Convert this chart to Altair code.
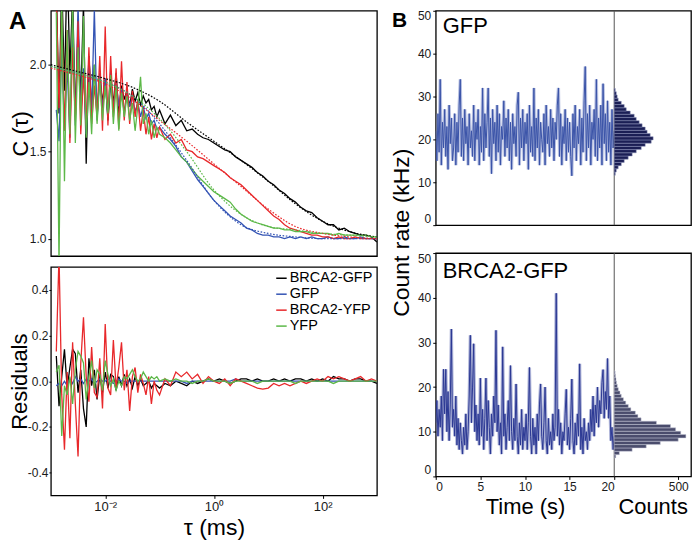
import altair as alt
import pandas as pd

FONT = "Liberation Sans"
NAMES = ["BRCA2-GFP", "GFP", "BRCA2-YFP", "YFP"]
COLORS = ["#000000", "#3454b4", "#e8282b", "#5cb848"]

# ---- Panel A: correlation curves (log10 of tau in ms) ----
log_tau = [-2.90, -2.85, -2.80, -2.75, -2.70, -2.65, -2.60, -2.55, -2.50, -2.45,
           -2.40, -2.35, -2.30, -2.25, -2.20, -2.15, -2.10, -2.05, -2.00, -1.95,
           -1.90, -1.85, -1.80, -1.75, -1.70, -1.65, -1.60, -1.55, -1.50, -1.45,
           -1.40, -1.35, -1.30, -1.25, -1.20, -1.15, -1.10, -1.05, -1.00,
           -0.9, -0.8, -0.7, -0.6, -0.5, -0.4, -0.3, -0.2, -0.1, 0.0,
           0.1, 0.2, 0.3, 0.4, 0.5, 0.6, 0.7, 0.8, 0.9, 1.0,
           1.1, 1.2, 1.3, 1.4, 1.5, 1.6, 1.7, 1.8, 1.9, 2.0,
           2.1, 2.2, 2.3, 2.4, 2.5, 2.6, 2.7, 2.8, 2.9, 3.0]

corr_brca2_gfp = [2.45, 1.72, 2.50, 1.85, 2.60, 1.95, 2.40, 1.70, 2.20, 1.80,
                  2.35, 1.43, 2.05, 1.75, 2.00, 1.70, 1.95, 1.78, 1.92, 1.68,
                  1.90, 1.78, 1.95, 1.72, 1.88, 1.80, 1.85, 1.76, 1.86, 1.79,
                  1.84, 1.77, 1.82, 1.78, 1.80, 1.74, 1.76, 1.70, 1.74,
                  1.66, 1.71, 1.65, 1.68, 1.62, 1.63, 1.60, 1.58, 1.57, 1.55,
                  1.53, 1.51, 1.50, 1.47, 1.45, 1.43, 1.41, 1.38, 1.36, 1.33,
                  1.31, 1.28, 1.26, 1.23, 1.21, 1.18, 1.16, 1.15, 1.12, 1.10,
                  1.08, 1.08, 1.05, 1.06, 1.04, 1.03, 1.02, 1.02, 1.01, 0.98]

corr_gfp = [1.74, 1.56, 2.10, 1.62, 2.00, 1.58, 2.25, 1.65, 2.35, 1.70,
            1.98, 1.60, 2.05, 1.72, 2.32, 1.68, 1.95, 1.75, 1.92, 1.70,
            1.96, 1.74, 1.90, 1.76, 1.86, 1.72, 1.84, 1.76, 1.82, 1.73,
            1.78, 1.70, 1.76, 1.69, 1.72, 1.66, 1.68, 1.63, 1.64,
            1.60, 1.57, 1.53, 1.47, 1.44, 1.39, 1.34, 1.30, 1.26, 1.22,
            1.19, 1.16, 1.13, 1.11, 1.09, 1.06, 1.05, 1.03, 1.02, 1.02,
            1.01, 1.01, 1.00, 1.01, 1.00, 1.01, 1.00, 1.01, 1.00, 1.00,
            1.01, 1.00, 1.00, 1.01, 1.00, 1.00, 1.01, 1.00, 1.00, 1.00]

corr_brca2_yfp = [2.40, 1.75, 2.30, 1.62, 2.20, 1.55, 2.10, 1.68, 2.25, 1.60,
                  1.95, 1.65, 2.10, 1.66, 1.88, 1.70, 2.05, 1.62, 2.22, 1.65,
                  2.05, 1.70, 1.98, 1.63, 2.02, 1.68, 1.90, 1.66, 1.85, 1.70,
                  1.80, 1.62, 1.74, 1.60, 1.70, 1.57, 1.66, 1.58, 1.64,
                  1.57, 1.60, 1.55, 1.57, 1.51, 1.50, 1.47, 1.46, 1.44, 1.42,
                  1.40, 1.38, 1.35, 1.33, 1.31, 1.28, 1.25, 1.22, 1.19, 1.16,
                  1.13, 1.11, 1.08, 1.06, 1.05, 1.04, 1.03, 1.02, 1.02, 1.01,
                  1.01, 1.00, 1.01, 1.00, 1.00, 1.01, 1.00, 1.00, 1.00, 1.00]

corr_yfp = [2.30, 0.85, 2.40, 1.33, 2.20, 1.60, 2.35, 1.55, 2.10, 1.65,
            2.28, 1.58, 1.90, 1.60, 2.00, 1.66, 1.92, 1.68, 1.88, 1.72,
            1.94, 1.66, 1.88, 1.62, 1.84, 1.70, 1.82, 1.68, 1.78, 1.62,
            1.76, 1.93, 1.66, 1.72, 1.60, 1.68, 1.58, 1.64, 1.60,
            1.58, 1.55, 1.51, 1.47, 1.44, 1.40, 1.36, 1.33, 1.30, 1.27,
            1.25, 1.23, 1.21, 1.17, 1.14, 1.12, 1.10, 1.09, 1.08, 1.07,
            1.06, 1.06, 1.05, 1.05, 1.04, 1.04, 1.04, 1.03, 1.03, 1.03,
            1.03, 1.02, 1.03, 1.02, 1.02, 1.02, 1.02, 1.02, 1.01, 1.01]

fit_log_tau = [-3.0, -2.5, -2.0, -1.5, -1.0, -0.5, 0.0, 0.5, 1.0, 1.5, 2.0, 2.5, 3.0]
fit_brca2_gfp = [2.00, 1.96, 1.92, 1.87, 1.79, 1.67, 1.56, 1.45, 1.33, 1.20, 1.10, 1.04, 1.01]
fit_gfp = [1.99, 1.95, 1.90, 1.82, 1.66, 1.45, 1.22, 1.08, 1.03, 1.01, 1.00, 1.00, 1.00]
fit_brca2_yfp = [1.98, 1.94, 1.89, 1.80, 1.68, 1.56, 1.43, 1.30, 1.17, 1.07, 1.03, 1.01, 1.00]
fit_yfp = [1.99, 1.95, 1.90, 1.82, 1.69, 1.50, 1.28, 1.14, 1.07, 1.05, 1.03, 1.02, 1.01]

res_brca2_gfp = [0.11, -0.11, 0.02, 0.14, -0.03, 0.06, 0.14, 0.12, -0.05, 0.05,
                 -0.12, -0.20, 0.10, -0.02, 0.05, -0.08, 0.03, -0.05, 0.04, -0.03,
                 0.03, 0.02, -0.04, 0.02, -0.02, 0.03, -0.02, 0.01, -0.03, 0.02,
                 -0.02, 0.01, -0.02, -0.01, 0.00, -0.03, -0.01, -0.02, -0.03,
                 -0.01, -0.02, 0.00, -0.01, -0.02, 0.00, -0.01, 0.00, 0.01, 0.00,
                 0.01, 0.00, -0.01, 0.00, 0.01, 0.01, 0.00, 0.01, 0.00, 0.00,
                 0.01, 0.00, 0.01, 0.00, 0.01, 0.01, 0.00, 0.01, 0.00, 0.01,
                 0.00, 0.02, 0.01, 0.01, 0.00, 0.01, 0.01, 0.00, 0.00, -0.01]

res_gfp = [-0.02, -0.01, -0.02, 0.00, -0.02, 0.01, -0.01, 0.02, 0.00, 0.01,
           -0.01, 0.01, 0.00, 0.01, -0.01, 0.00, 0.01, 0.00, 0.00, 0.01,
           0.00, -0.01, 0.00, 0.01, 0.00, 0.00, -0.01, 0.00, 0.00, 0.00,
           0.00, 0.00, 0.00, 0.00, 0.00, 0.00, 0.00, 0.00, 0.00,
           0.00, 0.00, 0.00, 0.00, -0.01, 0.00, 0.00, 0.00, 0.00, 0.00,
           0.00, 0.00, 0.00, 0.01, 0.00, 0.00, 0.00, 0.00, 0.00, 0.00,
           0.00, 0.00, 0.00, 0.00, 0.00, 0.00, 0.00, 0.00, 0.00, 0.00,
           0.00, 0.00, 0.00, 0.00, 0.00, 0.00, 0.00, 0.00, 0.00, 0.00]

res_brca2_yfp = [0.13, 0.55, -0.06, -0.30, 0.04, -0.25, 0.17, -0.10, -0.33, 0.08,
                 0.28, 0.02, -0.09, 0.15, -0.05, -0.07, 0.10, -0.12, 0.25, -0.03,
                 -0.06, 0.18, -0.03, 0.06, 0.17, -0.04, 0.05, -0.13, 0.02, 0.06,
                 -0.05, 0.03, -0.01, -0.06, 0.02, -0.10, 0.00, -0.04, -0.06,
                 0.01, -0.02, 0.04, 0.02, 0.04, 0.01, 0.03, -0.01, 0.02, 0.00,
                 -0.01, 0.01, -0.02, 0.01, 0.00, -0.01, -0.02, -0.03, -0.035, -0.03,
                 -0.01, -0.02, -0.01, -0.02, -0.01, 0.00, -0.01, 0.00, 0.01, 0.00,
                 0.02, 0.01, 0.02, 0.01, 0.00, 0.01, 0.02, 0.00, 0.01, 0.00]

res_yfp = [0.04, 0.07, -0.24, -0.02, -0.06, 0.02, -0.10, 0.05, 0.13, 0.11,
           0.08, -0.08, 0.02, 0.09, -0.03, 0.05, 0.03, -0.04, 0.09, 0.03,
           -0.02, 0.01, -0.04, 0.00, -0.02, 0.02, 0.01, 0.03, 0.05, 0.02,
           0.00, 0.01, 0.04, 0.02, 0.00, 0.02, 0.01, 0.02, 0.00,
           0.01, 0.00, 0.01, 0.00, 0.00, -0.01, 0.00, 0.00, 0.01, 0.00,
           0.00, 0.00, -0.01, 0.00, 0.00, 0.00, 0.00, -0.01, 0.00, 0.00,
           0.00, 0.00, 0.00, 0.00, -0.01, 0.00, 0.00, 0.00, 0.00, 0.00,
           0.00, -0.01, 0.00, 0.00, 0.00, 0.00, 0.00, 0.00, 0.00, 0.00]

# ---- Panel B: count-rate traces (kHz), sampled every 0.125 s ----
trace_dt = 0.125
trace_gfp = [22, 15, 26, 17, 34, 14, 24, 18,
             27, 16, 23, 13, 28, 19, 25, 15,
             18, 26, 14, 24, 17, 28, 34, 16,
             25, 15, 27, 19, 23, 14, 26, 18,
             22, 16, 28, 15, 24, 20, 27, 14,
             23, 17, 32, 15, 26, 18, 24, 32,
             16, 25, 12, 27, 19, 24, 15, 28,
             17, 26, 14, 23, 20, 29, 16, 25,
             18, 27, 15, 24, 13, 26, 19, 23,
             16, 28, 31, 14, 25, 18, 27, 15,
             24, 19, 26, 13, 28, 17, 23, 16,
             32, 15, 25, 18, 27, 14, 24, 20,
             17, 26, 14, 28, 19, 23, 16, 27,
             18, 25, 15, 24, 20, 28, 32, 16,
             26, 14, 23, 19, 27, 15, 25, 17,
             24, 16, 11.5, 26, 18, 28, 15, 23,
             19, 27, 14, 25, 17, 29, 37, 15,
             26, 18, 28, 14, 24, 20, 27, 16,
             34, 15, 25, 18, 28, 14, 33, 19,
             26, 15, 29, 17, 24, 14, 27, 18,
             22]

trace_brca2_gfp = [12, 17, 9, 15, 11, 18, 8, 24,
                   14, 24, 10, 19, 8, 16, 33, 11,
                   15, 9, 18, 7, 13, 6, 12, 8,
                   5, 11, 7, 14, 6, 10, 18, 31.6,
                   12, 20, 29.7, 10, 16, 8, 14, 7,
                   22, 9, 15, 6, 13, 22, 8, 17,
                   11, 5, 14, 9, 18, 12, 32.7, 10,
                   16, 7, 12, 5, 29, 9, 14, 6,
                   11, 17, 8, 24.8, 10, 6, 13, 8,
                   20.7, 9, 5, 12, 7, 15, 6, 11,
                   8, 14, 6, 12, 24.4, 9, 5, 13,
                   7, 11, 5, 14, 8, 16, 20.7, 9,
                   6, 12, 20, 8, 5, 13, 7, 10,
                   6, 14, 8, 11, 41, 9, 15, 7,
                   12, 5, 10, 8, 14, 19.5, 7, 11,
                   6, 13, 21.8, 8, 5, 12, 7, 14,
                   9, 25.2, 6, 11, 5, 13, 8, 10,
                   6, 12, 8, 15, 10, 18, 9, 16,
                   12, 20, 11, 17, 14, 21, 23.9, 13,
                   19, 15, 26.4, 13, 18, 8, 11, 6,
                   9]

# ---- Panel B: histograms (lower bin edge in kHz, counts) ----
bin_width = 0.75
hist_gfp_lo = [11.625, 12.375, 13.125, 13.875, 14.625, 15.375, 16.125, 16.875, 17.625,
               18.375, 19.125, 19.875, 20.625, 21.375, 22.125, 22.875, 23.625, 24.375,
               25.125, 25.875, 26.625, 27.375, 28.125, 28.875, 29.625, 30.375, 31.125]
hist_gfp_n = [8, 16, 31, 55, 78, 109, 140, 172, 211, 242, 289, 304, 281, 257,
              242, 218, 195, 172, 156, 125, 94, 78, 55, 31, 23, 16, 8]
hist_brca2_lo = [4.125, 4.875, 5.625, 6.375, 7.125, 7.875, 8.625, 9.375, 10.125,
                 10.875, 11.625, 12.375, 13.125, 13.875, 14.625, 15.375, 16.125,
                 16.875, 17.625, 18.375, 19.125, 19.875, 20.625, 21.375, 22.125, 22.875]
hist_brca2_n = [12, 40, 140, 250, 360, 500, 560, 520, 480, 440, 330, 210, 185,
                165, 130, 110, 90, 72, 55, 45, 32, 24, 18, 14, 10, 7]


def series_df(xs, named, col):
    frames = []
    for name, vals in named:
        frames.append(pd.DataFrame({"tau": [10 ** v for v in xs], col: vals, "sample": name}))
    return pd.concat(frames, ignore_index=True)


corr_df = series_df(log_tau, [("BRCA2-GFP", corr_brca2_gfp), ("GFP", corr_gfp),
                              ("BRCA2-YFP", corr_brca2_yfp), ("YFP", corr_yfp)], "C")
fit_df = series_df(fit_log_tau, [("BRCA2-GFP", fit_brca2_gfp), ("GFP", fit_gfp),
                                 ("BRCA2-YFP", fit_brca2_yfp), ("YFP", fit_yfp)], "C")
res_df = series_df(log_tau, [("BRCA2-GFP", res_brca2_gfp), ("GFP", res_gfp),
                             ("BRCA2-YFP", res_brca2_yfp), ("YFP", res_yfp)], "R")

color_scale = alt.Scale(domain=NAMES, range=COLORS)
tau_scale = alt.Scale(type="log", domain=[0.001, 1000], nice=False)
A_WIDTH = 327

# ---- Panel A top ----
x_top = alt.X("tau:Q", scale=tau_scale, axis=None)
y_top = alt.Y("C:Q", scale=alt.Scale(domain=[0.9, 2.31], nice=False, zero=False),
              axis=alt.Axis(values=[1.0, 1.5, 2.0], format=".1f", title="C (τ)",
                            titleFontSize=22, titleX=-18, tickSize=3, labelPadding=2,
                            labelFontSize=12))
top_data = alt.Chart(corr_df).mark_line(strokeWidth=1.3, clip=True).encode(
    x=x_top, y=y_top, color=alt.Color("sample:N", scale=color_scale, legend=None))
top_fit = alt.Chart(fit_df).mark_line(strokeWidth=1.2, strokeDash=[1.6, 1.6], clip=True,
                                      interpolate="monotone").encode(
    x=x_top, y=y_top, color=alt.Color("sample:N", scale=color_scale, legend=None))
letter_a = alt.Chart(pd.DataFrame({"label": ["A"]})).mark_text(
    align="left", baseline="top", fontSize=24, fontWeight="bold", color="black").encode(
    text="label:N", x=alt.value(-42), y=alt.value(-1))
top_a = alt.layer(top_data, top_fit, letter_a).properties(width=A_WIDTH, height=246)

# ---- Panel A bottom ----
x_bot = alt.X("tau:Q", scale=tau_scale,
              axis=alt.Axis(values=[0.01, 1, 100],
                            labelExpr="datum.value < 0.1 ? '10⁻²' : (datum.value < 10 ? '10⁰' : '10²')",
                            title="τ (ms)", titleFontSize=23, tickSize=3, labelPadding=2,
                            labelFontSize=13, titlePadding=3))
y_bot = alt.Y("R:Q", scale=alt.Scale(domain=[-0.5, 0.5], nice=False),
              axis=alt.Axis(values=[-0.4, -0.2, 0.0, 0.2, 0.4],
                            labelExpr="replace(format(datum.value, '.1f'), '\u2212', '-')",
                            title="Residuals", titleFontSize=22, titleX=-19, tickSize=2,
                            labelPadding=1, labelFontSize=12))
bot_a = alt.Chart(res_df).mark_line(strokeWidth=1.3, clip=True).encode(
    x=x_bot, y=y_bot,
    color=alt.Color("sample:N", scale=color_scale,
                    legend=alt.Legend(orient="top-right", title=None, symbolType="stroke",
                                      symbolSize=110, symbolStrokeWidth=1.5, labelFontSize=14.5,
                                      labelOffset=1, rowPadding=1, offset=3, padding=1,
                                      labelColor="black"))
).properties(width=A_WIDTH, height=229)

panel_a = alt.vconcat(top_a, bot_a, spacing=9).resolve_scale(color="independent")

# ---- Panel B: one view per row, trace and histogram side by side ----
T_W, H_W = 179, 77


def row_chart(vals, color, halo, label, hist_lo, hist_n, fill, stroke, bottom, height):
    tdf = pd.DataFrame({"t": [i * trace_dt for i in range(len(vals))], "v": vals})
    hdf = pd.DataFrame({"lo": hist_lo, "hi": [v + bin_width for v in hist_lo],
                        "zero": [0] * len(hist_lo), "n": hist_n})
    t_scale = alt.Scale(domain=[0, 20], range=[0, T_W], nice=False)
    n_scale = alt.Scale(domain=[0, 600], range=[T_W, T_W + H_W], nice=False)
    y_scale = alt.Scale(domain=[0, 50], nice=False)
    if bottom:
        t_axis = alt.Axis(values=[0, 5, 10, 15, 20], title="Time (s)", orient="bottom",
                          titleFontSize=22, tickSize=3, labelPadding=2, labelFontSize=12,
                          titlePadding=4)
        n_axis = alt.Axis(values=[500], title="Counts", orient="bottom", titleFontSize=22,
                          tickSize=3, labelPadding=2, labelFontSize=12, titlePadding=4)
    else:
        t_axis = None
        n_axis = None
    y_axis = alt.Axis(values=[0, 10, 20, 30, 40, 50], title=None, labelFlush=True,
                      tickSize=3, labelPadding=2, labelFontSize=12)
    x_enc = alt.X("t:Q", scale=t_scale, axis=t_axis)
    y_enc = alt.Y("v:Q", scale=y_scale, axis=y_axis)
    glow = alt.Chart(tdf).mark_line(strokeWidth=3.2, color=halo, opacity=0.5,
                                    clip=True).encode(x=x_enc, y=y_enc)
    line = alt.Chart(tdf).mark_line(strokeWidth=1.0, color=color, clip=True).encode(
        x=x_enc, y=y_enc)
    divider = alt.Chart(pd.DataFrame({"edge": [20]})).mark_rule(
        color="#555555", strokeWidth=1).encode(x=alt.X("edge:Q", scale=t_scale, axis=t_axis))
    text = alt.Chart(pd.DataFrame({"label": [label]})).mark_text(
        align="left", baseline="top", fontSize=22, color="black").encode(
        text="label:N", x=alt.value(7), y=alt.value(8 if bottom else 5))
    layers = [glow, line, divider, text]
    if not bottom:
        letter_b = alt.Chart(pd.DataFrame({"label": ["B"]})).mark_text(
            align="left", baseline="top", fontSize=21, fontWeight="bold", color="black").encode(
            text="label:N", x=alt.value(-44), y=alt.value(-1))
        layers.append(letter_b)
    trace_layer = alt.layer(*layers)
    hist = alt.Chart(hdf).mark_rect(fill=fill, stroke=stroke, strokeWidth=0.5, clip=True).encode(
        x=alt.X("zero:Q", scale=n_scale, axis=n_axis), x2="n:Q",
        y=alt.Y("lo:Q", scale=y_scale, axis=y_axis), y2="hi:Q")
    return alt.layer(trace_layer, hist).resolve_scale(x="independent").resolve_axis(
        x="independent").properties(width=T_W + H_W, height=height)


row1 = row_chart(trace_gfp, "#3a53a8", "#6d80c4", "GFP", hist_gfp_lo, hist_gfp_n,
                 "#1b1f55", "#8a90b8", False, 215)
row2 = row_chart(trace_brca2_gfp, "#2b3894", "#5a66b0", "BRCA2-GFP", hist_brca2_lo,
                 hist_brca2_n, "#4a4c6c", "#c4c6d6", True, 224)
panel_b = alt.vconcat(row1, row2, spacing=24, title=alt.TitleParams(
    "Count rate (kHz)", orient="left", anchor="middle", fontSize=23, font=FONT,
    fontWeight="normal", color="black", offset=-23, dx=31))

chart = alt.hconcat(panel_a, panel_b, spacing=13).properties(
    padding=0
).configure(font=FONT).configure_view(
    stroke="black", strokeWidth=1.3
).configure_axis(
    domain=False, grid=False, labelFont=FONT, titleFont=FONT, labelColor="#1a1a1a",
    titleColor="black", titleFontWeight="normal", tickColor="black"
).configure_legend(labelFont=FONT)

chart.save("out.html", embed_options={"renderer": "svg", "actions": False})
